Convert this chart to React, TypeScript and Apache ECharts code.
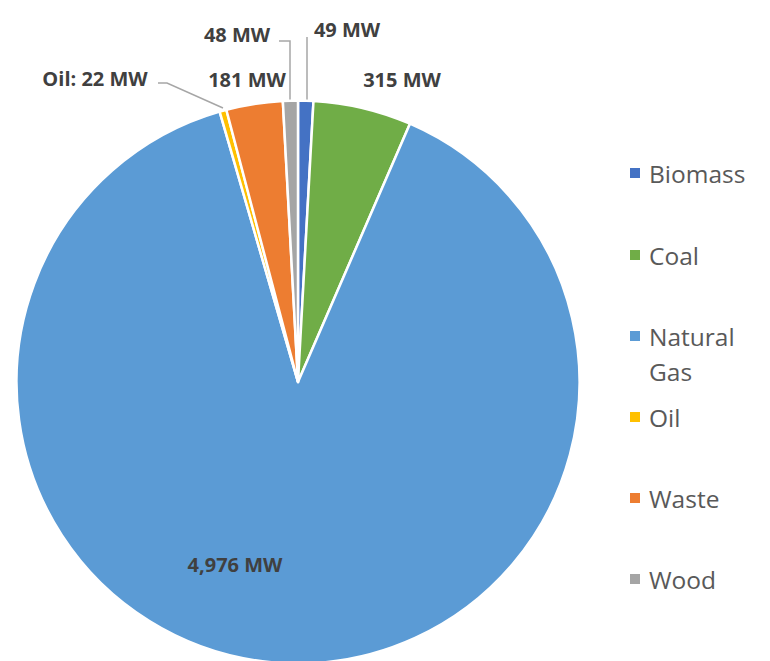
import React, { useEffect, useRef } from "react";
import * as echarts from "echarts";

const categories = ["Biomass", "Coal", "Natural Gas", "Oil", "Waste", "Wood"];
const values = [49, 315, 4976, 22, 181, 48];
const colors = ["#4472C4", "#70AD47", "#5B9BD5", "#FFC000", "#ED7D31", "#A5A5A5"];
const legendNames = ["Biomass", "Coal", "Natural\nGas", "Oil", "Waste", "Wood"];

// label anchor positions (label layout, not data)
const labelAnchors: number[][] = [
  [347, 29],
  [402, 79],
  [235, 564],
  [95, 78],
  [247, 79],
  [237, 34],
];
const leaderLines: Record<number, number[][]> = {
  0: [[307, 100], [307, 60], [307, 37]],
  3: [[223, 108], [167, 83], [158, 83]],
  5: [[290, 100], [290, 41], [279, 41]],
};
const legendCenters = [173, 255, 336, 417, 498, 579];

export default function App() {
  const ref = useRef<HTMLDivElement>(null);
  useEffect(() => {
    if (!ref.current) return;
    const chart = echarts.init(ref.current, undefined, { renderer: "svg" });
    const lineH = 35;
    const legends = categories.map((name, i) => {
      const multi = legendNames[i].includes("\n");
      const h = multi ? lineH * 3 : lineH;
      return {
        data: [name],
        left: 628,
        top: legendCenters[i] - h / 2,
        padding: 0,
        itemWidth: 12,
        itemHeight: 12,
        icon: "rect",
        selectedMode: false,
        formatter: () => (multi ? "\n" + legendNames[i] : legendNames[i]),
        textStyle: {
          fontFamily: "Open Sans",
          fontSize: 24.5,
          color: "#595959",
          lineHeight: lineH,
          padding: [0, 0, 0, 3],
        },
      };
    });
    chart.setOption({
      animation: false,
      color: colors,
      legend: legends,
      series: [
        {
          type: "pie",
          center: [298, 382],
          radius: 281.5,
          startAngle: 90,
          clockwise: true,
          avoidLabelOverlap: false,
          itemStyle: { borderColor: "#ffffff", borderWidth: 2.5 },
          label: {
            show: true,
            position: "outside",
            fontFamily: "Open Sans",
            fontSize: 20,
            fontWeight: "bold",
            color: "#404040",
            formatter: (p: any) => {
              const v = Number(p.value).toLocaleString("en-US");
              return p.name === "Oil" ? `${p.name}: ${v} MW` : `${v} MW`;
            },
          },
          labelLine: {
            show: true,
            lineStyle: { color: "#A6A6A6", width: 1.5 },
          },
          labelLayout: (params: any) => {
            const i = params.dataIndex;
            const res: any = {
              x: labelAnchors[i][0],
              y: labelAnchors[i][1],
              align: "center",
              verticalAlign: "middle",
            };
            if (leaderLines[i]) res.labelLinePoints = leaderLines[i];
            return res;
          },
          data: categories.map((name, i) => ({
            name,
            value: values[i],
            labelLine: { show: !!leaderLines[i] },
          })),
        },
      ],
    });
    return () => chart.dispose();
  }, []);
  return (
    <div
      ref={ref}
      style={{ position: "fixed", left: 0, top: 0, width: 770, height: 661, background: "#fff" }}
    />
  );
}
